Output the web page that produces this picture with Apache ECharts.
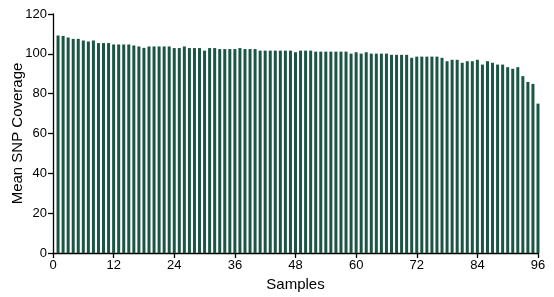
<!DOCTYPE html>
<html>
<head>
<meta charset="utf-8">
<script src="https://cdn.jsdelivr.net/npm/echarts@6/dist/echarts.min.js"></script>
<style>
html,body{margin:0;padding:0;background:#fff;}
#chart{width:554px;height:297px;}
</style>
</head>
<body>
<div id="chart"></div>
<script>
const samples = [];
for (let i = 1; i <= 96; i++) samples.push(i);
const coverage = [
  109.2, 109.0, 108.2, 107.5, 107.5, 106.7, 106.2, 106.7, 105.4, 105.4,
  105.4, 104.7, 104.7, 104.7, 104.7, 104.2, 103.7, 103.0, 103.7, 103.7,
  103.7, 103.7, 103.7, 102.9, 102.9, 103.7, 102.9, 102.9, 102.9, 101.6,
  102.9, 102.9, 102.4, 102.4, 102.4, 102.4, 102.9, 102.4, 102.4, 102.4,
  101.6, 101.6, 101.6, 101.6, 101.6, 101.6, 101.6, 100.8, 101.6, 101.6,
  101.6, 101.1, 101.1, 101.1, 101.1, 101.1, 101.1, 101.1, 100.1, 100.8,
  100.1, 100.8, 100.1, 100.1, 100.1, 100.1, 99.5, 99.5, 99.5, 99.5,
  98.0, 98.6, 98.6, 98.6, 98.6, 98.6, 98.0, 96.3, 97.0, 97.0,
  95.5, 96.3, 96.3, 97.0, 94.6, 96.3, 95.5, 94.6, 94.6, 93.3,
  92.5, 93.3, 88.8, 85.9, 84.9, 75.0
];
const xTicks = [0, 12, 24, 36, 48, 60, 72, 84, 96];
const yTicks = [0, 20, 40, 60, 80, 100, 120];

const chart = echarts.init(document.getElementById('chart'), null, {renderer: 'canvas'});
const font = 'Liberation Sans, Arial, Helvetica, sans-serif';
chart.setOption({
  animation: false,
  grid: {left: 53, right: 16, top: 14, bottom: 44, containLabel: false, outerBoundsMode: 'none'},
  xAxis: {
    type: 'value', min: xTicks[0], max: xTicks[xTicks.length - 1], interval: 12,
    name: 'Samples', nameLocation: 'middle', nameGap: 24, nameMoveOverlap: false,
    nameTextStyle: {fontFamily: font, fontSize: 15, color: '#000'},
    axisLine: {show: true, lineStyle: {color: '#000', width: 1.3}},
    axisTick: {show: true, length: 5, lineStyle: {color: '#000', width: 1.3}},
    axisLabel: {fontFamily: font, fontSize: 13, color: '#000', margin: 6},
    splitLine: {show: false}
  },
  yAxis: {
    type: 'value', min: yTicks[0], max: yTicks[yTicks.length - 1], interval: 20,
    name: 'Mean SNP Coverage', nameLocation: 'middle', nameGap: 28, nameMoveOverlap: false,
    nameTextStyle: {fontFamily: font, fontSize: 15, color: '#000'},
    axisLine: {show: true, lineStyle: {color: '#000', width: 1.3}},
    axisTick: {show: true, length: 5, lineStyle: {color: '#000', width: 1.3}},
    axisLabel: {fontFamily: font, fontSize: 13, color: '#000', margin: 6},
    splitLine: {show: false}
  },
  series: [{
    type: 'bar',
    data: samples.map((s, i) => [s, coverage[i]]),
    barWidth: 3,
    itemStyle: {color: '#1b5645'}
  }]
});
</script>
</body>
</html>
